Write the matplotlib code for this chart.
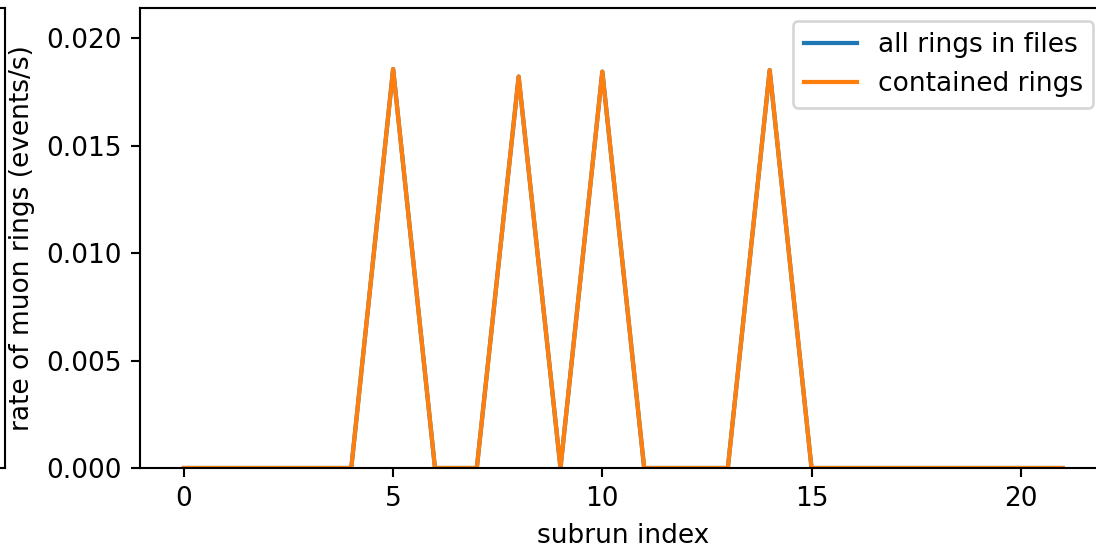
import matplotlib
matplotlib.use("Agg")
import matplotlib.pyplot as plt
import numpy as np

subrun_index = list(range(22))
all_rings = [0, 0, 0, 0, 0, 0.01856, 0, 0, 0.01821, 0, 0.01844, 0, 0, 0,
             0.01851, 0, 0, 0, 0, 0, 0, 0]
contained_rings = [0, 0, 0, 0, 0, 0.01856, 0, 0, 0.01821, 0, 0.01844, 0, 0, 0,
                   0.01851, 0, 0, 0, 0, 0, 0, 0]

DPI = 190
W, H = 1096, 550
fig = plt.figure(figsize=(W / DPI, H / DPI), dpi=DPI)

# remnant of the neighbouring panel on the left (cropped)
bottom = (H - 468) / H
height = 460 / H
ax0 = fig.add_axes([-0.5, bottom, 0.5 + 5 / W, height])
ax0.set_xticks([])
ax0.set_yticks([])

ax = fig.add_axes([140 / W, bottom, (1106.5 - 140) / W, height])
ax.plot(subrun_index, all_rings, label="all rings in files", lw=1.6)
ax.plot(subrun_index, contained_rings, label="contained rings", lw=1.6)
ax.set_ylim(0, 0.0214)
ax.set_xlabel("subrun index")
ax.set_ylabel("rate of muon rings (events/s)")
ax.legend(loc="upper right")

fig.savefig("out.png", dpi=DPI)
